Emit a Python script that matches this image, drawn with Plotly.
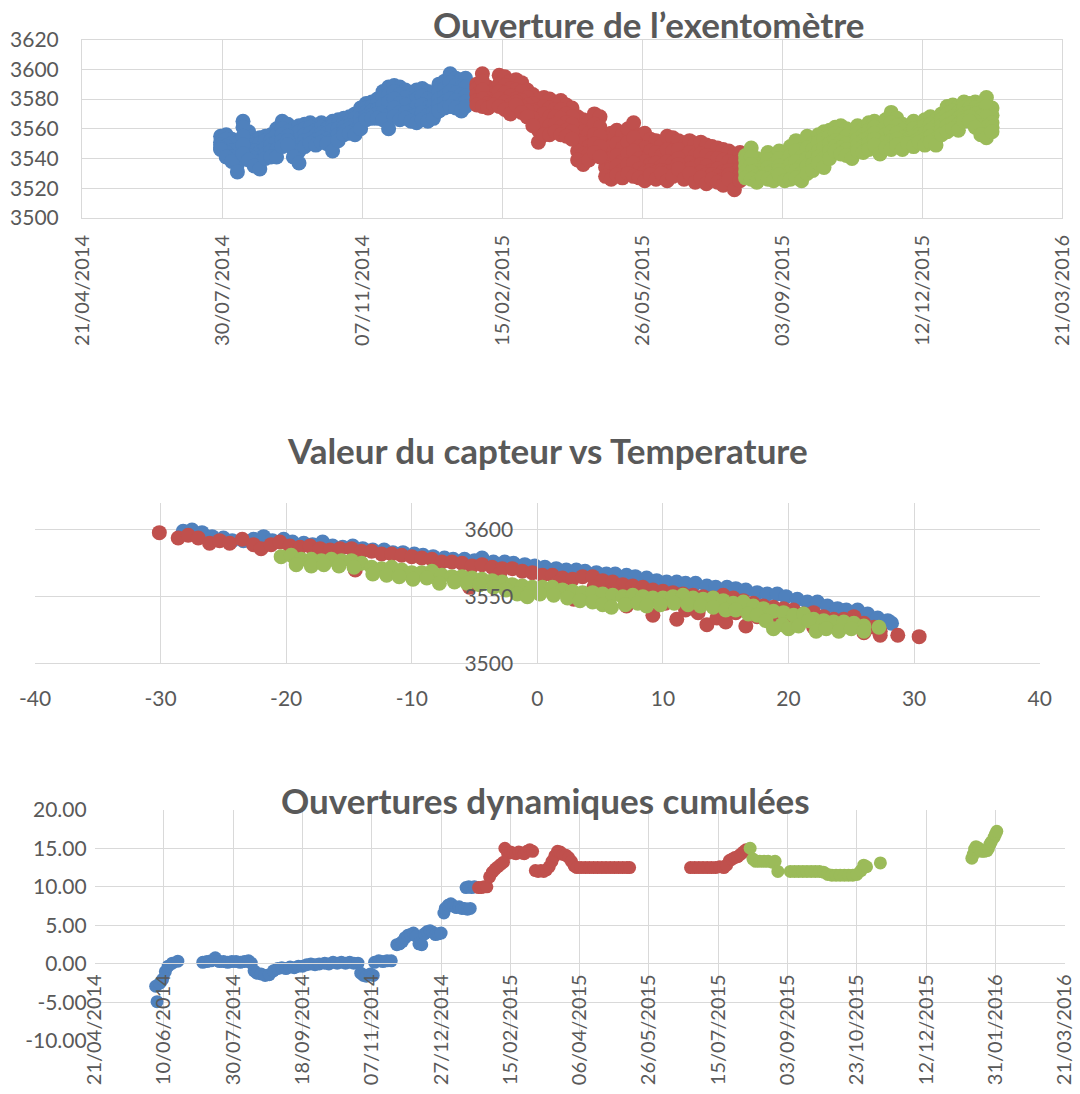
import plotly.graph_objects as go

# ---------------- Chart 1 : Ouverture de l'exentomètre ----------------
blue_dates = ["2014-07-29","2014-08-02","2014-08-06","2014-08-10","2014-08-14","2014-08-18","2014-08-22","2014-08-26",
              "2014-08-30","2014-09-03","2014-09-07","2014-09-11","2014-09-15","2014-09-19","2014-09-23","2014-09-27",
              "2014-10-01","2014-10-05","2014-10-09","2014-10-13","2014-10-17","2014-10-21","2014-10-25","2014-10-29",
              "2014-11-02","2014-11-06","2014-11-10","2014-11-14","2014-11-18","2014-11-22","2014-11-26","2014-11-30",
              "2014-12-04","2014-12-08","2014-12-12","2014-12-16","2014-12-20","2014-12-24","2014-12-28","2015-01-01",
              "2015-01-05","2015-01-09","2015-01-13","2015-01-17","2015-01-20"]
blue_hi  = [3555,3556,3553,3551,3565,3558,3552,3554,3555,3556,3560,3565,3563,3560,3562,3563,3564,3562,3564,3563,3565,3566,
            3567,3568,3570,3574,3577,3578,3580,3585,3588,3589,3588,3586,3582,3586,3587,3585,3584,3590,3592,3597,3594,3593,3594]
blue_qhi = [3551,3553,3550,3546,3561,3551,3549,3550,3552,3552,3556,3560,3558,3556,3558,3560,3561,3559,3561,3560,3562,3563,
            3564,3565,3567,3571,3574,3575,3577,3581,3583,3585,3583,3581,3578,3580,3582,3580,3580,3585,3587,3591,3589,3588,3588]
blue_mid = [3549,3548,3545,3540,3555,3546,3545,3544,3547,3549,3551,3556,3555,3552,3553,3556,3557,3556,3557,3557,3559,3560,
            3561,3562,3563,3567,3571,3572,3573,3576,3578,3580,3577,3576,3572,3575,3576,3574,3576,3580,3582,3585,3584,3583,3582]
blue_qlo = [3547,3544,3541,3536,3549,3542,3540,3538,3543,3545,3546,3552,3552,3546,3545,3552,3553,3552,3554,3553,3552,3556,
            3558,3560,3559,3563,3568,3569,3570,3571,3569,3574,3571,3571,3568,3569,3571,3569,3571,3576,3578,3580,3579,3577,3578]
blue_lo  = [3546,3541,3538,3531,3543,3539,3535,3533,3540,3541,3541,3548,3549,3541,3537,3548,3550,3549,3551,3550,3545,3552,
            3556,3557,3556,3560,3566,3567,3567,3566,3560,3568,3566,3567,3565,3564,3566,3565,3567,3572,3574,3575,3574,3572,3575]

red_dates = ["2015-01-28","2015-02-01","2015-02-05","2015-02-09","2015-02-13","2015-02-17","2015-02-21","2015-02-25",
             "2015-03-01","2015-03-05","2015-03-09","2015-03-13","2015-03-17","2015-03-21","2015-03-25","2015-03-29",
             "2015-04-02","2015-04-06","2015-04-10","2015-04-14","2015-04-18","2015-04-22","2015-04-26","2015-04-30",
             "2015-05-04","2015-05-08","2015-05-12","2015-05-16","2015-05-20","2015-05-24","2015-05-28","2015-06-01",
             "2015-06-05","2015-06-09","2015-06-13","2015-06-17","2015-06-21","2015-06-25","2015-06-29","2015-07-03",
             "2015-07-07","2015-07-11","2015-07-15","2015-07-19","2015-07-23","2015-07-27","2015-07-31","2015-08-04"]
red_hi  = [3590,3597,3588,3586,3596,3595,3592,3593,3591,3586,3583,3580,3581,3580,3578,3579,3576,3574,3568,3566,3565,3570,
           3568,3555,3557,3559,3556,3560,3564,3556,3557,3553,3552,3549,3555,3554,3552,3548,3552,3550,3551,3549,3548,3547,
           3546,3545,3543,3544]
red_qhi = [3587,3592,3584,3582,3590,3589,3587,3586,3585,3581,3577,3573,3575,3574,3573,3573,3570,3568,3560,3558,3557,3563,
           3561,3548,3548,3550,3547,3551,3554,3548,3547,3545,3544,3542,3546,3545,3546,3541,3544,3542,3543,3542,3540,3540,
           3539,3538,3537,3538]
red_mid = [3583,3586,3580,3578,3585,3584,3582,3580,3579,3576,3572,3567,3570,3568,3568,3567,3564,3563,3552,3550,3548,3556,
           3555,3540,3540,3542,3538,3543,3545,3540,3538,3536,3537,3535,3538,3537,3540,3534,3537,3535,3536,3535,3532,3533,
           3531,3532,3530,3533]
red_qlo = [3579,3580,3577,3577,3580,3578,3576,3578,3575,3572,3567,3559,3563,3562,3563,3561,3559,3558,3545,3543,3543,3550,
           3548,3534,3533,3535,3532,3536,3537,3533,3531,3532,3531,3532,3531,3532,3536,3530,3533,3529,3531,3529,3529,3528,
           3526,3529,3524,3529]
red_lo  = [3576,3575,3574,3576,3575,3573,3570,3576,3571,3568,3562,3551,3556,3556,3558,3556,3555,3553,3539,3536,3539,3544,
           3541,3528,3526,3529,3527,3530,3528,3527,3525,3529,3526,3530,3525,3528,3533,3526,3530,3524,3527,3523,3526,3524,
           3522,3526,3519,3525]

green_dates = ["2015-08-08","2015-08-12","2015-08-16","2015-08-20","2015-08-24","2015-08-28","2015-09-01","2015-09-05",
               "2015-09-09","2015-09-13","2015-09-17","2015-09-21","2015-09-25","2015-09-29","2015-10-03","2015-10-07",
               "2015-10-11","2015-10-15","2015-10-19","2015-10-23","2015-10-27","2015-10-31","2015-11-04","2015-11-08",
               "2015-11-12","2015-11-16","2015-11-20","2015-11-24","2015-11-28","2015-12-02","2015-12-06","2015-12-10",
               "2015-12-14","2015-12-18","2015-12-22","2015-12-26","2015-12-30","2016-01-03","2016-01-07","2016-01-11",
               "2016-01-15","2016-01-19","2016-01-23","2016-01-27","2016-01-31"]
green_hi  = [3542,3547,3540,3538,3544,3540,3545,3537,3548,3552,3546,3555,3550,3556,3558,3559,3561,3562,3560,3555,3562,3560,
             3564,3565,3562,3566,3571,3567,3563,3558,3565,3561,3566,3568,3566,3570,3575,3576,3575,3578,3577,3578,3577,3581,3574]
green_qhi = [3539,3541,3536,3534,3539,3536,3540,3534,3542,3545,3541,3547,3546,3551,3553,3555,3557,3556,3555,3551,3557,3556,
             3559,3561,3558,3561,3564,3562,3559,3556,3560,3558,3562,3563,3562,3566,3570,3572,3571,3574,3574,3574,3573,3575,3569]
green_mid = [3535,3536,3532,3530,3534,3532,3535,3530,3536,3538,3535,3540,3541,3545,3547,3550,3552,3551,3550,3547,3553,3552,
             3554,3557,3553,3556,3558,3557,3554,3553,3555,3556,3557,3559,3557,3562,3566,3568,3567,3570,3571,3570,3568,3568,3564]
green_qlo = [3531,3531,3528,3528,3530,3528,3532,3527,3531,3532,3530,3535,3536,3541,3540,3545,3548,3547,3546,3543,3549,3548,
             3550,3553,3548,3551,3552,3553,3550,3551,3551,3553,3553,3555,3553,3559,3562,3564,3563,3567,3568,3565,3562,3561,3561]
green_lo  = [3527,3526,3524,3527,3526,3525,3529,3525,3526,3527,3525,3530,3532,3537,3534,3540,3545,3543,3542,3540,3545,3544,
             3546,3549,3543,3547,3546,3549,3546,3550,3548,3551,3549,3551,3549,3556,3558,3560,3559,3565,3565,3561,3556,3554,3558]

# ---------------- Chart 2 : Valeur du capteur vs Temperature ----------------
blue_temp = [-28.2,-27.5,-26.7,-25.9,-25.0,-24.3,-23.4,-22.6,-21.8,-21.1,-20.2,-19.5,-18.6,-17.9,-17.1,-16.3,-15.5,-14.7,
             -13.9,-13.1,-12.2,-11.5,-10.7,-9.8,-9.1,-8.3,-7.4,-6.7,-5.8,-5.0,-4.4,-3.5,-2.6,-1.9,-1.0,-0.2,0.6,1.5,2.3,
             3.1,3.8,4.7,5.5,6.2,7.1,7.8,8.7,9.5,10.3,11.1,11.8,12.6,13.5,14.2,15.1,15.8,16.6,17.5,18.3,19.1,19.8,20.7,
             21.5,22.3,23.1,23.9,24.6,25.5,26.3,27.1,27.9,28.2]
blue_val  = [3599,3600,3598,3595,3594,3592,3592,3593,3595,3592,3593,3591,3590,3589,3591,3588,3587,3588,
             3586,3585,3585,3583,3583,3582,3581,3580,3579,3578,3578,3577,3579,3576,3576,3575,3574,3573,3572,3571,3570,
             3570,3569,3568,3567,3567,3566,3565,3564,3562,3561,3561,3560,3560,3558,3557,3557,3556,3555,3553,3552,3552,
             3550,3548,3546,3546,3543,3541,3540,3540,3537,3534,3532,3530]
red_temp = [-30.1,-28.6,-27.8,-27.0,-26.1,-25.3,-24.5,-23.5,-22.6,-22.0,-21.2,-20.5,-19.7,-18.9,-18.1,-17.3,-16.5,-15.7,
            -14.8,-14.0,-13.2,-12.4,-11.6,-10.8,-10.0,-9.2,-8.4,-7.6,-6.8,-6.0,-5.2,-4.4,-3.6,-2.8,-2.0,-1.2,-0.4,0.4,
            1.2,2.0,2.8,3.6,4.4,5.2,6.0,6.8,7.6,8.4,9.2,10.0,10.8,11.6,12.4,13.2,14.0,14.8,15.6,16.4,17.2,18.0,18.8,19.6,
            20.4,21.2,22.0,22.8,23.6,24.4,25.2,26.0,26.8,27.3,
            -14.5,-5.4,-3.0,1.5,2.9,4.5,6.0,7.1,8.2,9.2,10.2,11.1,11.8,12.8,13.5,14.3,15.0,15.8,16.6,17.5,18.5,19.3,20.2,
            21.0,22.0,23.0,24.0,25.0,26.0,27.3,28.7,30.4]
red_val  = [3598,3594,3596,3594,3590,3592,3590,3593,3589,3586,3589,3591,3588,3587,3588,3586,3585,3586,
            3586,3584,3584,3582,3582,3581,3580,3579,3578,3576,3576,3575,3573,3574,3572,3571,3571,3569,3568,3566,
            3566,3564,3563,3565,3565,3562,3561,3559,3558,3557,3555,3554,3553,3552,3551,3550,3549,3551,3549,3547,3545,
            3543,3542,3541,3540,3537,3538,3535,3533,3533,3535,3530,3527,3524,
            3570,3557,3567,3560,3548,3557,3555,3543,3550,3536,3545,3533,3540,3538,3529,3534,3531,3538,3528,3535,3533,
            3530,3530,3532,3527,3528,3525,3527,3523,3521,3521,3520]
green_temp = [-20.4,-19.6,-18.8,-18.0,-17.2,-16.4,-15.6,-14.8,-14.0,-13.2,-12.4,-11.6,-10.8,-10.0,-9.2,-8.4,-7.6,-6.8,
              -6.0,-5.2,-4.4,-3.6,-2.8,-2.0,-1.2,-0.4,0.4,1.2,2.0,2.8,3.6,4.4,5.2,6.0,6.8,7.6,8.4,9.2,10.0,10.8,11.6,
              12.4,13.2,14.0,14.8,15.6,16.4,17.2,18.0,18.8,19.6,20.4,21.2,22.0,22.8,23.6,24.4,25.2,26.0,27.2,
              -19.2,-18.0,-17.0,-15.8,-14.6,-13.1,-12.0,-11.0,-9.9,-8.8,-7.8,-6.6,-5.6,-4.6,-3.5,-2.5,-1.6,-0.8,0.2,
              1.3,2.4,3.4,4.4,5.2,5.9,7.0,8.0,8.7,9.8,10.9,12.0,13.0,14.0,15.0,15.8,16.8,17.5,18.2,18.8,19.5,20.0,20.8,
              21.6,22.2,23.0,24.0,25.0,26.0]
green_val  = [3580,3581,3578,3578,3577,3578,3577,3577,3575,3572,3571,3572,3570,3568,3568,3569,3566,3565,
              3565,3564,3563,3562,3561,3559,3558,3557,3557,3557,3555,3554,3553,3553,3552,3551,3550,3551,3550,3549,
              3549,3550,3551,3549,3548,3549,3547,3545,3546,3543,3541,3539,3538,3536,3537,3533,3532,3531,3531,3530,
              3528,3527,
              3574,3573,3574,3573,3572,3567,3566,3565,3563,3564,3560,3561,3560,3559,3557,3555,3552,3550,3552,
              3551,3549,3547,3546,3544,3542,3544,3545,3543,3544,3545,3544,3543,3542,3540,3540,3537,3536,3532,3526,
              3529,3526,3528,3532,3524,3526,3524,3526,3524]

x2_ticks = [-40, -30, -20, -10, 0, 10, 20, 30, 40]
x2_labels = ["-40", "-30", "-20", "-10", "0", "10", "20", "30", "40"]
y2_ticks = [3500, 3550, 3600]

# ---------------- Chart 3 : Ouvertures dynamiques cumulées ----------------
dyn_blue_dates = ["2014-06-04","2014-06-05","2014-06-07","2014-06-09","2014-06-11","2014-06-13","2014-06-16","2014-06-20",
                  "2014-07-08","2014-07-11","2014-07-14","2014-07-17","2014-07-20","2014-07-23","2014-07-26","2014-07-29",
                  "2014-08-01","2014-08-04","2014-08-07","2014-08-10","2014-08-12",
                  "2014-08-14","2014-08-16","2014-08-19","2014-08-22","2014-08-25","2014-08-28","2014-08-31","2014-09-03",
                  "2014-09-06","2014-09-09","2014-09-12","2014-09-15","2014-09-18","2014-09-21","2014-09-24","2014-09-27",
                  "2014-09-30","2014-10-04","2014-10-07","2014-10-10","2014-10-13","2014-10-16","2014-10-19","2014-10-22",
                  "2014-10-25","2014-10-28",
                  "2014-10-30","2014-11-01","2014-11-03","2014-11-06","2014-11-08",
                  "2014-11-09","2014-11-12","2014-11-15","2014-11-18","2014-11-21",
                  "2014-11-25","2014-11-27","2014-11-29","2014-12-01","2014-12-03","2014-12-05","2014-12-07","2014-12-09",
                  "2014-12-11","2014-12-13","2014-12-15","2014-12-17","2014-12-19","2014-12-21","2014-12-23","2014-12-25",
                  "2014-12-27",
                  "2014-12-29","2014-12-30","2015-01-01","2015-01-03","2015-01-05","2015-01-07","2015-01-09","2015-01-11",
                  "2015-01-13","2015-01-15","2015-01-17",
                  "2015-01-14","2015-01-16","2015-01-18","2015-01-20"]
dyn_blue_vals = [-2.9,-4.9,-2.5,-2.0,-1.0,-0.3,0.1,0.35,
                 0.2,0.3,0.4,0.8,0.3,0.3,0.2,0.3,
                 0.3,0.2,0.3,0.4,0.1,
                 -0.9,-1.2,-1.3,-1.5,-1.4,-0.9,-0.6,-0.5,
                 -0.6,-0.4,-0.5,-0.3,-0.3,-0.1,0.0,-0.1,
                 0.0,0.1,0.0,0.2,0.1,0.2,0.1,0.2,
                 0.1,0.1,
                 -1.2,-1.5,-1.6,-1.3,-1.5,
                 0.2,0.4,0.3,0.4,0.4,
                 2.5,2.6,2.9,3.4,3.7,3.8,4.0,3.6,
                 2.6,2.5,3.9,4.2,4.3,4.1,3.8,3.9,
                 4.0,
                 6.6,7.2,7.6,7.8,7.5,7.3,7.4,7.2,
                 7.2,7.1,7.2,
                 9.9,10.0,9.9,10.0]
dyn_red_dates = ["2015-01-23","2015-01-25","2015-01-27","2015-01-29","2015-01-31","2015-02-02","2015-02-04","2015-02-06",
                 "2015-02-08","2015-02-10","2015-02-11","2015-02-13","2015-02-15","2015-02-17","2015-02-19","2015-02-21",
                 "2015-02-23","2015-02-25","2015-02-27","2015-03-01","2015-03-03",
                 "2015-03-05","2015-03-07","2015-03-09","2015-03-11","2015-03-13","2015-03-15","2015-03-17","2015-03-19",
                 "2015-03-21","2015-03-23","2015-03-25","2015-03-27","2015-03-29","2015-03-31","2015-04-02","2015-04-04",
                 "2015-04-07","2015-04-10","2015-04-13","2015-04-16","2015-04-19","2015-04-22","2015-04-25","2015-04-28",
                 "2015-05-01","2015-05-04","2015-05-07","2015-05-10","2015-05-12",
                 "2015-06-25","2015-06-28","2015-07-01","2015-07-04","2015-07-07","2015-07-10","2015-07-13","2015-07-16",
                 "2015-07-19","2015-07-21","2015-07-23","2015-07-25","2015-07-27","2015-07-29","2015-07-31","2015-08-02",
                 "2015-08-04"]
dyn_red_vals = [9.9,9.9,10.0,10.0,11.3,11.9,12.3,12.6,
                12.9,13.2,15.0,14.3,14.5,14.4,14.3,14.5,
                14.4,14.3,14.6,14.8,14.6,
                12.1,12.0,12.1,12.0,12.2,12.6,13.3,14.0,
                14.6,14.5,14.2,14.1,13.8,13.3,12.7,12.5,
                12.5,12.5,12.5,12.5,12.5,12.5,12.5,12.5,
                12.5,12.5,12.5,12.5,12.5,
                12.5,12.5,12.5,12.5,12.5,12.5,12.5,12.6,
                12.5,12.8,13.4,13.6,13.8,13.9,14.2,14.5,
                14.8]
dyn_green_dates = ["2015-08-07","2015-08-09","2015-08-11","2015-08-14","2015-08-17","2015-08-20","2015-08-23","2015-08-25",
                   "2015-08-27",
                   "2015-09-05","2015-09-08","2015-09-11","2015-09-14","2015-09-17","2015-09-20","2015-09-23","2015-09-26",
                   "2015-09-29","2015-10-02","2015-10-05","2015-10-08","2015-10-11","2015-10-14","2015-10-17","2015-10-20",
                   "2015-10-23","2015-10-26","2015-10-28","2015-10-30","2015-11-09",
                   "2016-01-14","2016-01-15","2016-01-16","2016-01-17","2016-01-19","2016-01-21","2016-01-23","2016-01-25",
                   "2016-01-26","2016-01-27","2016-01-28","2016-01-30","2016-01-31","2016-02-01"]
dyn_green_vals = [15.0,13.6,13.3,13.3,13.3,13.3,13.2,13.3,
                  12.0,
                  12.0,12.0,12.0,12.0,12.0,12.0,12.0,12.0,
                  11.9,11.6,11.5,11.5,11.5,11.5,11.5,11.5,
                  11.6,12.1,12.8,12.6,13.1,
                  13.7,14.2,14.9,15.2,15.0,14.6,14.6,14.7,
                  15.0,15.5,15.8,16.4,16.8,17.2]

y3_ticks = [-10, -5, 0, 5, 10, 15, 20]
y3_labels = ["-10.00", "-5.00", "0.00", "5.00", "10.00", "15.00", "20.00"]

# ---------------- styling ----------------
BLUE, RED, GREEN = "#4f81bd", "#c0504d", "#9bbb59"
GRID = "#d9d9d9"
TXT = "#595959"
FONT = "Lato"
W, H = 1080, 1094


def px_x(p):
    return p / W


def px_y(p):
    return 1 - p / H


fig = go.Figure()

# chart 1
for d, rows, c in [(blue_dates, [blue_hi, blue_qhi, blue_mid, blue_qlo, blue_lo], BLUE),
                   (red_dates, [red_hi, red_qhi, red_mid, red_qlo, red_lo], RED),
                   (green_dates, [green_hi, green_qhi, green_mid, green_qlo, green_lo], GREEN)]:
    xs, ys = [], []
    for r in rows:
        xs += d
        ys += r
    fig.add_trace(go.Scatter(x=xs, y=ys, mode="markers",
                             marker=dict(color=c, size=15, line=dict(width=0)),
                             xaxis="x", yaxis="y", showlegend=False, hoverinfo="skip"))

# chart 2
for t, v, c in [(blue_temp, blue_val, BLUE), (red_temp, red_val, RED), (green_temp, green_val, GREEN)]:
    fig.add_trace(go.Scatter(x=t, y=v, mode="markers",
                             marker=dict(color=c, size=15, line=dict(width=0)),
                             xaxis="x2", yaxis="y2", showlegend=False, hoverinfo="skip"))

# chart 3
for d, v, c in [(dyn_blue_dates, dyn_blue_vals, BLUE), (dyn_red_dates, dyn_red_vals, RED),
                (dyn_green_dates, dyn_green_vals, GREEN)]:
    fig.add_trace(go.Scatter(x=d, y=v, mode="markers",
                             marker=dict(color=c, size=13, line=dict(width=0)),
                             xaxis="x3", yaxis="y3", showlegend=False, hoverinfo="skip"))

tickfont = dict(family=FONT, size=21, color=TXT)
datefont = dict(family=FONT, size=20, color=TXT)
titlefont = dict(family=FONT, size=35, color=TXT)
DAY_MS = 86400000

fig.update_layout(
    template="none",
    width=W, height=H,
    margin=dict(l=0, r=0, t=0, b=0, pad=0),
    paper_bgcolor="white", plot_bgcolor="white",
    font=dict(family=FONT, color=TXT),
    xaxis=dict(domain=[px_x(82), px_x(1062)], anchor="y", type="date",
               range=["2014-04-21", "2016-03-21"], tick0="2014-04-21", dtick=100 * DAY_MS,
               tickformat="%d/%m/%Y", tickangle=-90, tickfont=datefont, ticks="",
               showgrid=True, gridcolor=GRID, gridwidth=1, showline=True, linecolor=GRID, mirror=True,
               zeroline=False, automargin=False, ticklabelstandoff=8),
    yaxis=dict(domain=[px_y(218), px_y(39.5)], anchor="x", range=[3500, 3620], dtick=20, tick0=3500,
               tickfont=tickfont, ticks="", showgrid=True, gridcolor=GRID, showline=True, linecolor=GRID,
               mirror=True, zeroline=False, automargin=False, ticklabelstandoff=18),
    xaxis2=dict(domain=[px_x(35), px_x(1039.7)], anchor="y2", range=[-40, 40],
                tickvals=x2_ticks, ticktext=x2_labels,
                tickfont=tickfont, ticks="", showgrid=True, gridcolor=GRID, showline=True, linecolor=GRID,
                zeroline=False, automargin=False, ticklabelstandoff=16),
    yaxis2=dict(domain=[px_y(663.3), px_y(503.3)], anchor="free", position=px_x(537.35),
                range=[3500, 3620], tickvals=y2_ticks,
                tickfont=tickfont, ticks="", showgrid=True, gridcolor=GRID, showline=True, linecolor=GRID,
                zeroline=False, automargin=False, ticklabelstandoff=20),
    xaxis3=dict(domain=[px_x(94.7), px_x(1064.7)], anchor="free", position=px_y(963.3), type="date",
                range=["2014-04-21", "2016-03-21"], tick0="2014-04-21", dtick=50 * DAY_MS,
                tickformat="%d/%m/%Y", tickangle=-90, tickfont=datefont, ticks="",
                showgrid=True, gridcolor=GRID, showline=True, linecolor=GRID,
                zeroline=False, automargin=False, ticklabelstandoff=2),
    yaxis3=dict(domain=[px_y(1041), px_y(809.7)], anchor="x3", range=[-10, 20],
                tickvals=y3_ticks, ticktext=y3_labels, tickfont=tickfont, ticks="", showgrid=True,
                gridcolor=GRID, showline=False, zeroline=False, automargin=False, ticklabelstandoff=7),
    annotations=[
        dict(text="<b>Ouverture de l’exentomètre</b>", x=px_x(648), y=px_y(24), xref="paper", yref="paper",
             showarrow=False, xanchor="center", yanchor="middle", font=titlefont),
        dict(text="<b>Valeur du capteur vs Temperature</b>", x=px_x(547), y=px_y(450), xref="paper", yref="paper",
             showarrow=False, xanchor="center", yanchor="middle", font=titlefont),
        dict(text="<b>Ouvertures dynamiques cumulées</b>", x=px_x(545), y=px_y(800), xref="paper", yref="paper",
             showarrow=False, xanchor="center", yanchor="middle", font=titlefont),
    ],
)

fig.write_html("out.html", config={"displayModeBar": False},
               post_script="document.body.style.margin='0';")
